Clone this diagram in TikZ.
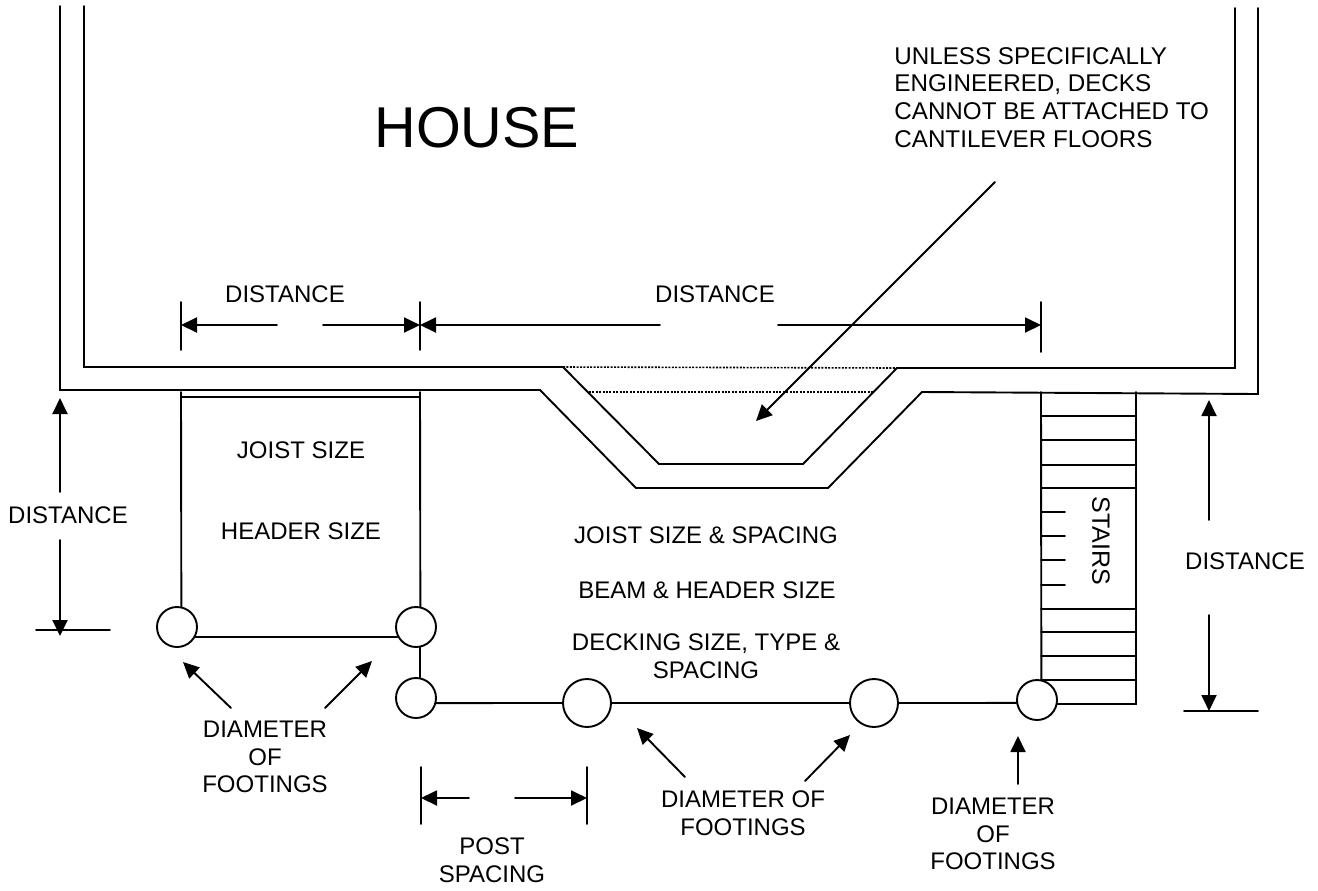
\documentclass[tikz,border=0pt]{standalone}
\usepackage{fontspec}
\setmainfont{Liberation Sans}
\usetikzlibrary{arrows.meta}
\tikzset{
  ln/.style={line width=0.95pt,line cap=round,line join=miter},
  dim/.style={ln,-{Triangle[length=8pt,width=7.5pt]}},
  foot/.style={circle,draw,line width=0.95pt,inner sep=0pt,minimum size=#1},
  lab/.style={align=center,inner sep=0pt,font=\fontsize{12pt}{13.8pt}\selectfont},
  dotline/.style={line width=0.8pt,dash pattern=on 1pt off 0.7pt},
}
\begin{document}
\begin{tikzpicture}[x=0.5pt,y=-0.5pt]
\useasboundingbox (0,0) rectangle (1318,890);
\fill[white] (0,0) rectangle (1318,890);
% house outline
\draw[ln] (60,6) -- (60,390) -- (540,390) -- (636,488) -- (828,488) -- (922,392) -- (1258,394) -- (1258,8);
\draw[ln] (84,6) -- (84,367) -- (563,367) -- (659,464) -- (803,464) -- (897,368) -- (1235,368) -- (1235,8);
\draw[dotline] (563,367) -- (897,368);
\draw[dotline] (589,392) -- (873,392);
% footings
\node[foot=20pt] (c1) at (177,627) {};
\node[foot=20pt] (c2) at (416,627) {};
\node[foot=20pt] (c3) at (416,698) {};
\node[foot=24pt] (c4) at (587,703) {};
\node[foot=24pt] (c5) at (874,703) {};
\node[foot=20pt] (c6) at (1037,700) {};
% deck
\coordinate (dl) at (181,392);
\coordinate (dr) at (420,392);
\coordinate (sl) at (1041,392);
\coordinate (sr) at (1136,392);
\coordinate (se) at (1136,704);
\draw[ln] (dl) -- (c1.78);
\draw[ln] (dr) -- (c2.78);
\draw[ln] (181,397) -- (420,397);
\draw[ln] (c1.-28) -- (c2.208);
\draw[ln] (c2.-78) -- (c3.78);
\draw[ln] (c3.-14) -- (c4.west);
\draw[ln] (c4.east) -- (c5.west);
\draw[ln] (c5.east) -- (c6.-172);
\draw[ln] (c6.-11) -- (se) -- (sr);
\draw[ln] (c6.78) -- (sl);
% stairs
\foreach \y in {416,440,465,488,609,632,656,680} \draw[ln] (1041,\y) -- (1136,\y);
\foreach \y in {512,536,560,585} \draw[ln] (1041,\y) -- (1065,\y);
% text
\node[lab,font=\fontsize{28.8pt}{32pt}\selectfont] (house) at (477,128) {HOUSE};
\node[lab,align=left,anchor=north west,font=\fontsize{12.1pt}{13.8pt}\selectfont] (note) at (894,47) {UNLESS SPECIFICALLY\\ENGINEERED, DECKS\\CANNOT BE ATTACHED TO\\CANTILEVER FLOORS};
\node[lab] (d1) at (285,294) {DISTANCE};
\node[lab] (d2) at (715,294) {DISTANCE};
\node[lab] (d3) at (68,515) {DISTANCE};
\node[lab] (d4) at (1245,561) {DISTANCE};
\node[lab] (joist) at (301,450) {JOIST SIZE};
\node[lab] (header) at (301,531) {HEADER SIZE};
\node[lab] (joist2) at (706,535) {JOIST SIZE \& SPACING};
\node[lab] (beam) at (707,590) {BEAM \& HEADER SIZE};
\node[lab] (deck) at (706,656) {DECKING SIZE, TYPE \&\\SPACING};
\node[lab] (f1) at (265,757) {DIAMETER\\OF\\FOOTINGS};
\node[lab] (post) at (492,860) {POST\\SPACING};
\node[lab] (f2) at (743,813) {DIAMETER OF\\FOOTINGS};
\node[lab] (f3) at (993,834) {DIAMETER\\OF\\FOOTINGS};
\node[lab,rotate=-90,font=\fontsize{12.5pt}{13.8pt}\selectfont] (stairs) at (1101,541) {STAIRS};
% dimension ticks
\coordinate (t1a) at (181,302); \coordinate (t1b) at (181,350);
\coordinate (t2a) at (420,302); \coordinate (t2b) at (420,350);
\coordinate (t3a) at (1041,302); \coordinate (t3b) at (1041,352);
\coordinate (t4a) at (36,630); \coordinate (t4b) at (110,630);
\coordinate (t5a) at (1184,711); \coordinate (t5b) at (1258,711);
\coordinate (t6a) at (421,767); \coordinate (t6b) at (421,824);
\coordinate (t7a) at (587,767); \coordinate (t7b) at (587,824);
\foreach \n in {1,...,7} \draw[ln] (t\n a) -- (t\n b);
% dimension arrows
\coordinate (a1) at (277,325); \coordinate (a1h) at (181,325);
\coordinate (a2) at (323,325); \coordinate (a2h) at (420,325);
\coordinate (a3) at (660,325); \coordinate (a3h) at (420,325);
\coordinate (a4) at (778,325); \coordinate (a4h) at (1041,325);
\coordinate (a5) at (60,492); \coordinate (a5h) at (60,398);
\coordinate (a6) at (60,540); \coordinate (a6h) at (60,636);
\coordinate (a7) at (1209,520); \coordinate (a7h) at (1209,400);
\coordinate (a8) at (1209,615); \coordinate (a8h) at (1209,711);
\coordinate (a9) at (469,798); \coordinate (a9h) at (421,798);
\coordinate (a10) at (515,798); \coordinate (a10h) at (587,798);
\coordinate (a11) at (231,708); \coordinate (a11h) at (183,662);
\coordinate (a12) at (325,708); \coordinate (a12h) at (372,661);
\coordinate (a13) at (685,777); \coordinate (a13h) at (637,728);
\coordinate (a14) at (805,781); \coordinate (a14h) at (850,735);
\coordinate (a15) at (1018,784); \coordinate (a15h) at (1018,736);
\coordinate (a16) at (995,182); \coordinate (a16h) at (756,421);
\foreach \n in {1,...,16} \draw[dim] (a\n) -- (a\n h);
\end{tikzpicture}
\end{document}
